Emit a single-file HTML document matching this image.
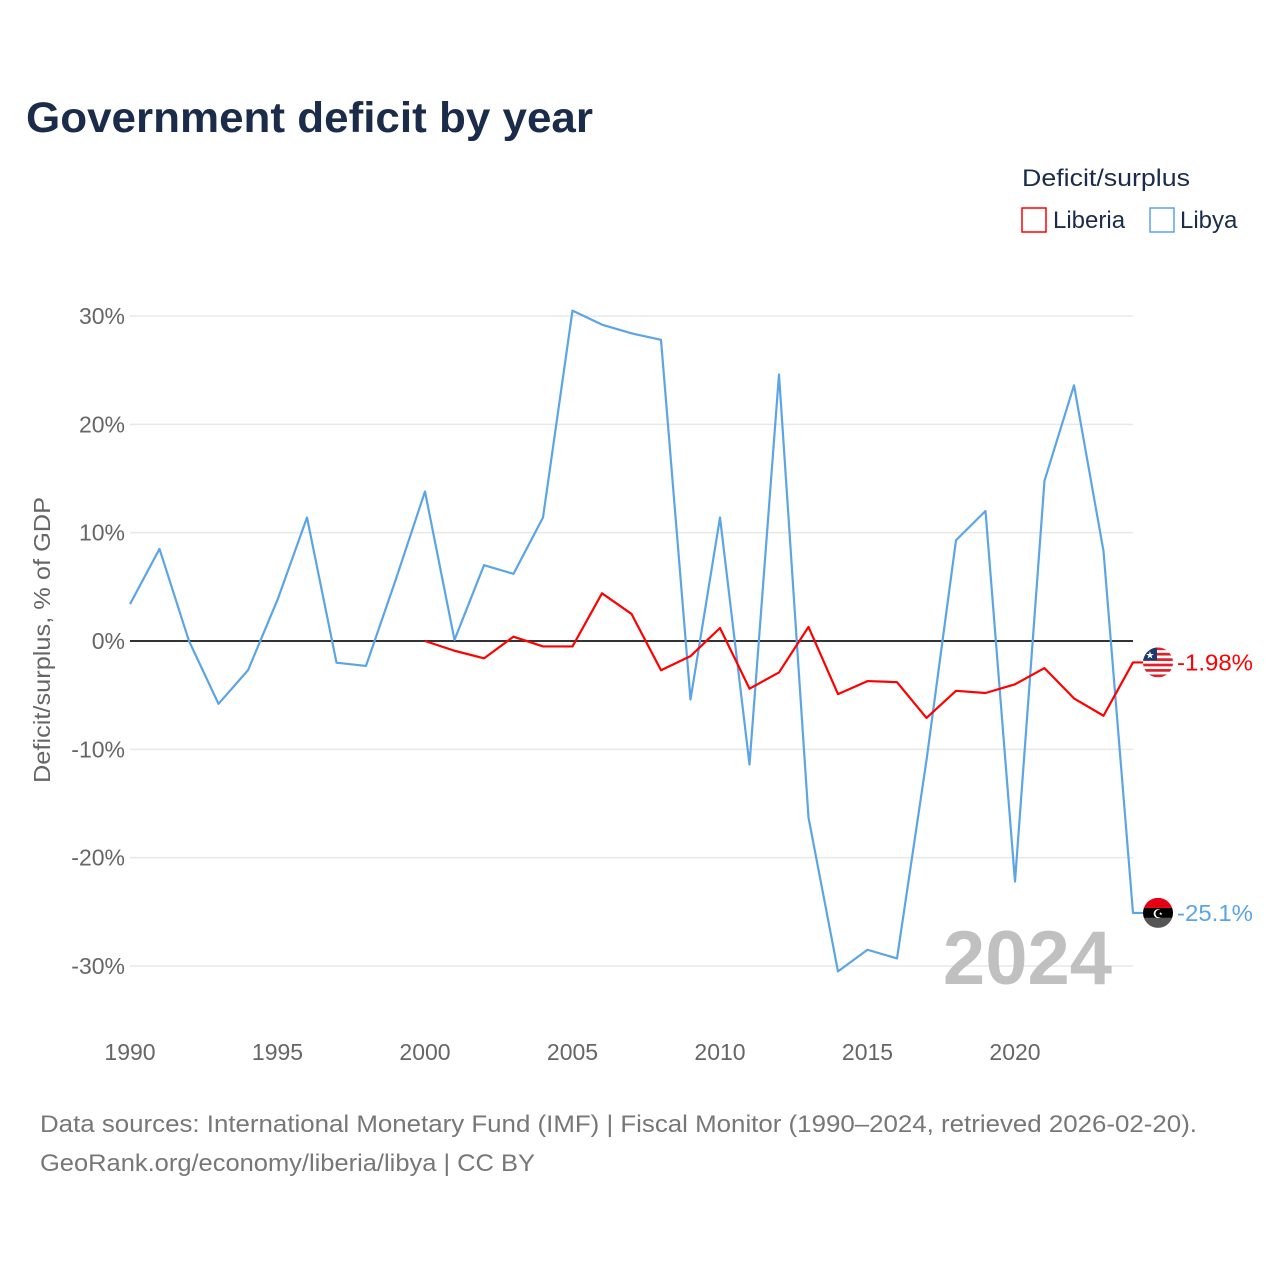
<!DOCTYPE html>
<html><head><meta charset="utf-8"><style>
body{margin:0;background:#fff;font-family:"Liberation Sans",sans-serif;}
svg text{font-family:"Liberation Sans",sans-serif;}
</style></head><body>
<svg width="1280" height="1280" viewBox="0 0 1280 1280">
<text x="26" y="132" font-size="43" font-weight="bold" fill="#1b2c4a" textLength="567" lengthAdjust="spacingAndGlyphs">Government deficit by year</text>
<text x="1022" y="186" font-size="24" fill="#1b2c4a" textLength="168" lengthAdjust="spacingAndGlyphs">Deficit/surplus</text>
<g><rect x="1022" y="208" width="24" height="24" fill="none" stroke="#ff0000" stroke-width="1.5"/><text x="1053" y="228" font-size="24" fill="#1b2c4a">Liberia</text></g>
<g><rect x="1150" y="208" width="24" height="24" fill="none" stroke="#5ba4e6" stroke-width="1.5"/><text x="1180" y="228" font-size="24" fill="#1b2c4a">Libya</text></g>
<g id="grid"></g>
<g id="yticks"></g>
<g id="xticks"></g>
<text transform="translate(50,640) rotate(-90)" text-anchor="middle" font-size="23" fill="#666" textLength="286" lengthAdjust="spacingAndGlyphs">Deficit/surplus, % of GDP</text>
<text x="1112" y="984" text-anchor="end" font-size="76" font-weight="bold" fill="#c0c0c0">2024</text>
<g id="series"></g>
<text x="40" y="1132" font-size="24" fill="#777" textLength="1157" lengthAdjust="spacingAndGlyphs">Data sources: International Monetary Fund (IMF) | Fiscal Monitor (1990–2024, retrieved 2026-02-20).</text>
<text x="40" y="1171" font-size="24" fill="#777" textLength="495" lengthAdjust="spacingAndGlyphs">GeoRank.org/economy/liberia/libya | CC BY</text>
</svg>
<script>
const yTicks=[30,20,10,0,-10,-20,-30];
const xTicks=[1990,1995,2000,2005,2010,2015,2020];
const libyaYears=[1990,1991,1992,1993,1994,1995,1996,1997,1998,1999,2000,2001,2002,2003,2004,2005,2006,2007,2008,2009,2010,2011,2012,2013,2014,2015,2016,2017,2018,2019,2020,2021,2022,2023,2024];
const libyaValues=[3.4,8.5,0,-5.8,-2.7,3.8,11.4,-2.0,-2.3,5.6,13.8,0.1,7.0,6.2,11.4,30.5,29.2,28.4,27.8,-5.4,11.4,-11.4,24.6,-16.3,-30.5,-28.5,-29.3,-11,9.3,12.0,-22.2,14.8,23.6,8.3,-25.1];
const liberiaYears=[2000,2001,2002,2003,2004,2005,2006,2007,2008,2009,2010,2011,2012,2013,2014,2015,2016,2017,2018,2019,2020,2021,2022,2023,2024];
const liberiaValues=[0,-0.9,-1.6,0.4,-0.5,-0.5,4.4,2.5,-2.7,-1.4,1.2,-4.4,-2.9,1.3,-4.9,-3.7,-3.8,-7.1,-4.6,-4.8,-4.0,-2.5,-5.3,-6.9,-1.98];
const NS='http://www.w3.org/2000/svg';
const xs=y=>130+(y-1990)*(1133-130)/34;
const ys=v=>641-v*(325/30);
function mk(t,a,p){const e=document.createElementNS(NS,t);for(const k in a)e.setAttribute(k,a[k]);p.appendChild(e);return e;}
const grid=document.getElementById('grid'),yt=document.getElementById('yticks'),xt=document.getElementById('xticks'),ser=document.getElementById('series');
yTicks.forEach(v=>{
 const l=mk('line',{x1:130,x2:1133,y1:ys(v),y2:ys(v),stroke:v===0?'#333':'#e8e8e8','stroke-width':v===0?2:1.5},grid);
 
 
 const t=mk('text',{x:125,y:ys(v)+8,'text-anchor':'end','font-size':23,fill:'#666'},yt);
 t.textContent=v+'%';
 
 
});
xTicks.forEach(y=>{
 const t=mk('text',{x:xs(y),y:1060,'text-anchor':'middle','font-size':23,fill:'#666'},xt);
 t.textContent=y;
 
 
});
function line(years,vals,color,name){
 const d=years.map((y,i)=>(i?'L':'M')+xs(y)+','+ys(vals[i])).join(' ');
 const p=mk('path',{d:d+' L'+(xs(years[years.length-1])+10)+','+ys(vals[vals.length-1]),fill:'none',stroke:color,'stroke-width':2.2,'stroke-linejoin':'round'},ser);
 
 
}
line(libyaYears,libyaValues,'#5ba4e6','libya-line');
line(liberiaYears,liberiaValues,'#ff0000','liberia-line');
const lbY=ys(liberiaValues[liberiaValues.length-1]),lyY=ys(libyaValues[libyaValues.length-1]);
const f1=mk('g',{},ser);


const cp1=mk('clipPath',{id:'c1'},f1);mk('circle',{cx:1158,cy:lbY,r:15},cp1);
const g1=mk('g',{'clip-path':'url(#c1)'},f1);
mk('rect',{x:1143,y:lbY-15,width:30,height:30,fill:'#fff'},g1);
for(let i=0;i<6;i++)mk('rect',{x:1143,y:lbY-15+i*5.4,width:30,height:2.7,fill:'#e0202a'},g1);
mk('rect',{x:1143,y:lbY-15,width:14,height:13,fill:'#1c3a6e'},g1);
mk('text',{x:1150,y:lbY-4,'font-size':10,fill:'#fff','text-anchor':'middle'},g1).textContent='★';
const t1=mk('text',{x:1177,y:lbY+8,'font-size':23,fill:'#ff0000',textLength:76,lengthAdjust:'spacingAndGlyphs'},ser);t1.textContent='-1.98%';


const f2=mk('g',{},ser);


const cp=mk('clipPath',{id:'c2'},f2);mk('circle',{cx:1158,cy:lyY,r:15},cp);
const g2=mk('g',{'clip-path':'url(#c2)'},f2);
mk('rect',{x:1143,y:lyY-15,width:30,height:10,fill:'#e70013'},g2);
mk('rect',{x:1143,y:lyY-5,width:30,height:10,fill:'#000'},g2);
mk('rect',{x:1143,y:lyY+5,width:30,height:10,fill:'#555'},g2);
mk('text',{x:1158,y:lyY+5,'font-size':12,fill:'#fff','text-anchor':'middle'},g2).textContent='☪';
const t2=mk('text',{x:1177,y:lyY+8,'font-size':23,fill:'#5ba4e6',textLength:76,lengthAdjust:'spacingAndGlyphs'},ser);t2.textContent='-25.1%';


</script>
</body></html>
